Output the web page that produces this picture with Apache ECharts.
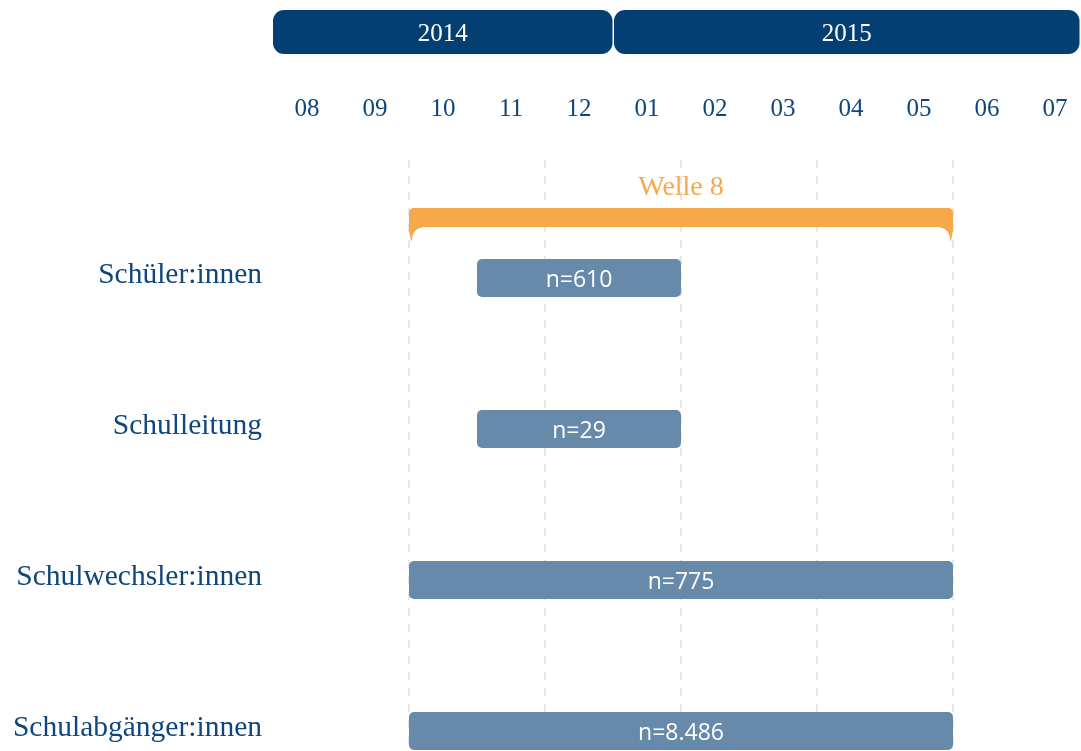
<!DOCTYPE html>
<html>
<head>
<meta charset="utf-8">
<script src="https://cdn.jsdelivr.net/npm/echarts@6/dist/echarts.min.js"></script>
<style>
  html, body { margin: 0; padding: 0; background: #fff; overflow: hidden; }
  /* a bit wider than the window: the last month runs off the right edge */
  #chart { width: 1089px; height: 751px; }
</style>
</head>
<body>
<div id="chart"></div>
<script>
  // x values are months counted from 08/2014 (0 = start of August 2014)
  const rows = ['Schüler:innen', 'Schulleitung', 'Schulwechsler:innen', 'Schulabgänger:innen'];
  const months = ['08', '09', '10', '11', '12', '01', '02', '03', '04', '05', '06', '07'];
  const years = ['2014', '2015'];
  const yearStart = [0, 5];
  const yearEnd = [5, 12];
  const barStart = [3, 3, 2, 2];
  const barEnd = [6, 6, 10, 10];
  const barLabels = ['n=610', 'n=29', 'n=775', 'n=8.486'];
  const waveName = 'Welle 8';
  const waveStart = 2;
  const waveEnd = 10;

  const navy = '#033f73';
  const textBlue = '#0f467b';
  const barColor = '#678aab';
  const orange = '#f5a94a';
  const serif = '"Liberation Serif", "DejaVu Serif", serif';
  const sans = '"Open Sans", "Noto Sans", sans-serif';

  const chart = echarts.init(document.getElementById('chart'));

  function renderYear(params, api) {
    const i = params.dataIndex;
    const x0 = api.coord([api.value(0), 0])[0];
    let x1 = api.coord([api.value(1), 0])[0];
    x1 = Math.min(x1, window.innerWidth - 1);
    const left = i === 0 ? x0 : x0 + 1;
    const right = x1 - 0.5;
    return {
      type: 'group',
      children: [{
        type: 'rect',
        shape: {x: left, y: 10, width: right - left, height: 44, r: 11},
        style: {fill: navy}
      }, {
        type: 'text',
        style: {
          x: (left + right) / 2, y: 34, text: years[i],
          fill: '#fff', font: '25px ' + serif,
          align: 'center', verticalAlign: 'middle'
        }
      }]
    };
  }

  function renderWave(params, api) {
    const a = api.coord([api.value(0), 0])[0];
    const b = api.coord([api.value(1), 0])[0];
    const top = 208, bot = 227, tip = 242;
    const path = 'M' + a + ',' + (top + 5) +
      ' Q' + a + ',' + top + ' ' + (a + 5) + ',' + top +
      ' L' + (b - 5) + ',' + top +
      ' Q' + b + ',' + top + ' ' + b + ',' + (top + 5) +
      ' L' + b + ',' + (bot + 2) +
      ' Q' + (b - 1) + ',' + (tip - 4) + ' ' + (b - 2.5) + ',' + tip +
      ' Q' + (b - 3) + ',' + bot + ' ' + (b - 17) + ',' + bot +
      ' L' + (a + 17) + ',' + bot +
      ' Q' + (a + 3) + ',' + bot + ' ' + (a + 2.5) + ',' + tip +
      ' Q' + (a + 1) + ',' + (tip - 4) + ' ' + a + ',' + (bot + 2) + ' Z';
    return {
      type: 'group',
      children: [{
        type: 'path',
        shape: {pathData: path},
        style: {fill: orange}
      }, {
        type: 'text',
        style: {
          x: (a + b) / 2, y: 188, text: waveName,
          fill: orange, font: '28px ' + serif,
          align: 'center', verticalAlign: 'middle'
        }
      }]
    };
  }

  function renderBar(params, api) {
    const i = params.dataIndex;
    const p0 = api.coord([api.value(0), api.value(2)]);
    const p1 = api.coord([api.value(1), api.value(2)]);
    const h = 38;
    return {
      type: 'group',
      children: [{
        type: 'rect',
        shape: {x: p0[0], y: p0[1] - h / 2, width: p1[0] - p0[0], height: h, r: 5},
        style: {fill: barColor}
      }, {
        type: 'text',
        style: {
          x: (p0[0] + p1[0]) / 2, y: p0[1] + 2, text: barLabels[i],
          fill: '#fff', font: '23px ' + sans,
          align: 'center', verticalAlign: 'middle'
        }
      }]
    };
  }

  chart.setOption({
    animation: false,
    grid: {left: 273, right: 0, top: 160, bottom: 0, containLabel: false},
    xAxis: [{
      type: 'value',
      min: 0,
      max: 12,
      interval: 2,
      axisLine: {show: false},
      axisTick: {show: false},
      axisLabel: {show: false},
      splitLine: {
        show: true,
        showMinLine: false,
        showMaxLine: false,
        lineStyle: {color: '#e6e6e6', width: 2, type: [8, 8]}
      }
    }, {
      type: 'category',
      position: 'top',
      data: months,
      boundaryGap: true,
      axisLine: {show: false},
      axisTick: {show: false},
      splitLine: {show: false},
      axisLabel: {
        color: textBlue,
        fontFamily: serif,
        fontSize: 25,
        margin: 38
      }
    }],
    yAxis: {
      type: 'value',
      inverse: true,
      min: -118 / 151,
      max: 473 / 151,
      axisLine: {show: false},
      axisTick: {show: false},
      splitLine: {show: false},
      axisLabel: {
        customValues: [0, 1, 2, 3],
        formatter: function (v) {
          return rows[Math.round(v)];
        },
        color: textBlue,
        fontFamily: serif,
        fontSize: 29.5,
        margin: 11,
        verticalAlign: 'bottom',
        lineHeight: 6
      }
    },
    series: [{
      type: 'custom',
      name: 'Jahre',
      renderItem: renderYear,
      encode: {x: [0, 1]},
      data: years.map((y, i) => [yearStart[i], yearEnd[i], -1.5]),
      clip: false,
      silent: true
    }, {
      type: 'custom',
      name: 'Welle',
      renderItem: renderWave,
      encode: {x: [0, 1]},
      data: [[waveStart, waveEnd, -0.5]],
      clip: false,
      silent: true
    }, {
      type: 'custom',
      name: 'Stichprobe',
      renderItem: renderBar,
      encode: {x: [0, 1], y: 2},
      data: rows.map((r, i) => [barStart[i], barEnd[i], i]),
      clip: false,
      silent: true
    }]
  });
</script>
</body>
</html>
